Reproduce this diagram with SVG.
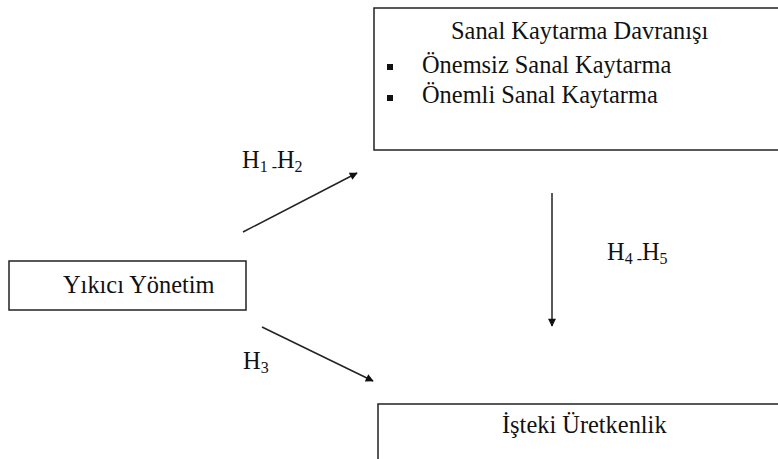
<svg xmlns="http://www.w3.org/2000/svg" width="778" height="459" viewBox="0 0 778 459">
<style>
.box{fill:#fff;stroke:#222;stroke-width:1.5}
text{font-family:'Liberation Serif','DejaVu Serif',serif;font-size:24.4px;fill:#111}
.sub{font-size:16px}
.conn line{stroke:#222;stroke-width:1.5}
</style>
<defs>
<marker id="ah" viewBox="0 0 10 10" refX="9" refY="5" markerWidth="10" markerHeight="8" markerUnits="userSpaceOnUse" orient="auto">
<path d="M0,0 L10,5 L0,10 z" fill="#111"/>
</marker>
</defs>
<rect width="778" height="459" fill="#fff"/>
<g id="node-sanal">
<rect class="box" x="374" y="8" width="420" height="142"/>
<text x="451" y="39">Sanal Kaytarma Davranışı</text>
<rect x="387" y="64" width="6" height="6" fill="#111"/>
<text x="422" y="73">Önemsiz Sanal Kaytarma</text>
<rect x="387" y="95" width="6" height="6" fill="#111"/>
<text x="422" y="103">Önemli Sanal Kaytarma</text>
</g>
<g id="node-yikici">
<rect class="box" x="9" y="261" width="237" height="49"/>
<text x="63" y="293">Yıkıcı Yönetim</text>
</g>
<g id="node-isteki">
<rect class="box" x="378" y="404" width="420" height="70"/>
<text x="502" y="433">İşteki Üretkenlik</text>
</g>
<g id="connectors" class="conn">
<line x1="243" y1="232" x2="357" y2="173" marker-end="url(#ah)"/>
<line x1="262" y1="327" x2="373" y2="381" marker-end="url(#ah)"/>
<line x1="552" y1="193" x2="552" y2="326" marker-end="url(#ah)"/>
</g>
<g id="labels">
<text x="242" y="168">H<tspan class="sub" dy="4">1 </tspan><tspan class="sub">-</tspan><tspan dy="-4">H</tspan><tspan class="sub" dy="4">2</tspan></text>
<text x="243" y="369">H<tspan class="sub" dy="4">3</tspan></text>
<text x="607" y="260">H<tspan class="sub" dy="4">4 </tspan><tspan class="sub">-</tspan><tspan dy="-4">H</tspan><tspan class="sub" dy="4">5</tspan></text>
</g>
</svg>
